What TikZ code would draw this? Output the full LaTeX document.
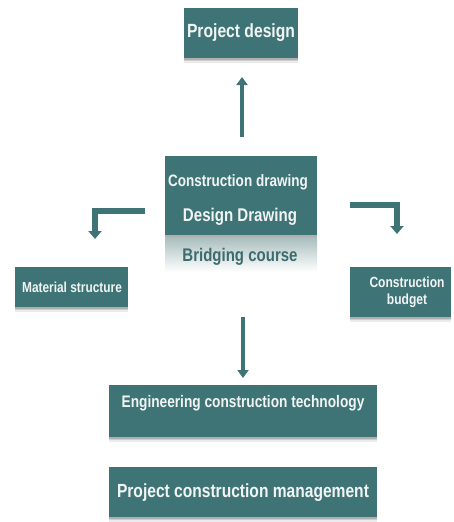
\documentclass[tikz,border=0pt]{standalone}
\usepackage{fontspec}
\setmainfont{Liberation Sans}[FakeStretch=0.82]
\usetikzlibrary{arrows.meta,shadows}
\definecolor{boxteal}{RGB}{62,116,118}
\definecolor{tealtext}{RGB}{60,108,110}
\definecolor{boxtext}{RGB}{242,244,244}
\definecolor{mist}{RGB}{170,190,190}
\tikzset{
  box/.style={fill=boxteal, draw=none, inner sep=0pt,
    drop shadow={shadow xshift=0pt, shadow yshift=-4.5pt, opacity=0.08, fill=black},
    drop shadow={shadow xshift=0pt, shadow yshift=-3pt, opacity=0.12, fill=black},
    drop shadow={shadow xshift=0pt, shadow yshift=-1.5pt, opacity=0.15, fill=black}},
  lbl/.style={text=boxtext, font=\bfseries, inner sep=0pt, align=center},
  flow/.style={draw=boxteal, line width=4.5pt, -{Triangle[width=11pt,length=8pt]}},
  elbow/.style={draw=boxteal, line width=6pt, -{Triangle[width=13pt,length=8pt]}}
}
\begin{document}
\begin{tikzpicture}[x=1pt,y=-1pt]
\useasboundingbox (0,0) rectangle (454,522);

% boxes
\node[box, minimum width=114pt, minimum height=50pt] (design) at (241,33) {};
\node[lbl, font=\bfseries\fontsize{19.1}{21}\selectfont] (designT) at (241,33) {Project design};

\node[box, minimum width=152pt, minimum height=79pt] (center) at (241,195.5) {};
\node[lbl, font=\bfseries\fontsize{16.5}{18}\selectfont] (drawT) at (238,182) {Construction drawing};
\node[lbl, font=\bfseries\fontsize{18.4}{20}\selectfont] (ddT) at (240,217) {Design Drawing};

% reflected band under the centre box
\shade[top color=mist, bottom color=white] (165,237.5) rectangle (317,272);
\node[inner sep=0pt, text=tealtext, font=\bfseries\fontsize{18.3}{20}\selectfont] (bridge) at (240,257) {Bridging course};

\node[box, minimum width=113pt, minimum height=40pt] (mat) at (71.5,287) {};
\node[lbl, font=\bfseries\fontsize{14.5}{16}\selectfont] (matT) at (72,287) {Material structure};

\node[box, minimum width=101pt, minimum height=50pt] (budget) at (400.5,292) {};
\node[lbl, font=\bfseries\fontsize{14.7}{17}\selectfont] (budgetT) at (407,292) {Construction\\budget};

\node[box, minimum width=268pt, minimum height=52pt] (eng) at (243,411) {};
\node[lbl, font=\bfseries\fontsize{16.7}{18}\selectfont] (engT) at (243,403) {Engineering construction technology};

\node[box, minimum width=268pt, minimum height=50pt] (pcm) at (243,492) {};
\node[lbl, font=\bfseries\fontsize{19}{21}\selectfont] (pcmT) at (243,493) {Project construction management};

% connector end points
\coordinate (upS) at (242,137);
\coordinate (upE) at (242,77);
\coordinate (dnS) at (243,317);
\coordinate (dnE) at (243,378);
\coordinate (lS) at (145,211);
\coordinate (lC) at (95,211);
\coordinate (lE) at (95,239);
\coordinate (rS) at (350,205);
\coordinate (rC) at (397,205);
\coordinate (rE) at (397,234);

% connectors
\draw[flow] (upS) -- (upE);
\draw[flow] (dnS) -- (dnE);
\draw[elbow] (lS) -- (lC) -- (lE);
\draw[elbow] (rS) -- (rC) -- (rE);
\end{tikzpicture}
\end{document}
